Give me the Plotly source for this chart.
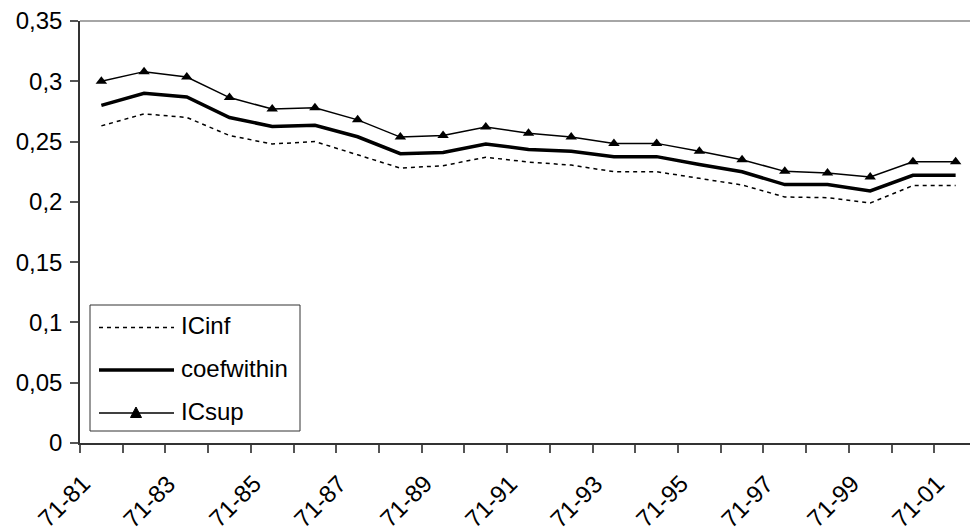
import plotly.graph_objects as go

categories = ["71-81", "71-82", "71-83", "71-84", "71-85", "71-86", "71-87", "71-88",
              "71-89", "71-90", "71-91", "71-92", "71-93", "71-94", "71-95", "71-96",
              "71-97", "71-98", "71-99", "71-00", "71-01"]
ICinf = [0.263, 0.273, 0.270, 0.255, 0.248, 0.250, 0.239, 0.228, 0.230, 0.237, 0.233,
         0.2305, 0.225, 0.225, 0.2195, 0.214, 0.204, 0.2035, 0.199, 0.2135, 0.2135]
coefwithin = [0.280, 0.290, 0.287, 0.270, 0.2625, 0.2635, 0.254, 0.240, 0.241, 0.248, 0.2435,
              0.242, 0.2375, 0.2375, 0.231, 0.225, 0.2143, 0.2143, 0.209, 0.222, 0.222]
ICsup = [0.300, 0.308, 0.3035, 0.2865, 0.277, 0.278, 0.268, 0.2537, 0.255, 0.262, 0.257,
         0.2537, 0.2485, 0.2485, 0.242, 0.235, 0.2253, 0.224, 0.2206, 0.2333, 0.2333]
series_names = ["ICinf", "coefwithin", "ICsup"]
y_ticks = [0, 0.05, 0.1, 0.15, 0.2, 0.25, 0.3, 0.35]
y_ticktext = ["0", "0,05", "0,1", "0,15", "0,2", "0,25", "0,3", "0,35"]

xpos = list(range(len(categories)))
FONT = "Liberation Sans, Arial, sans-serif"
FS = 24

# page body has an 8px margin; plot area target (absolute px): x 80..977, y 21..443
OFF = 8
PL, PR, PT, PB = 80, 977, 21, 443
W, H = 978 - OFF, 532 - OFF


def px(x):
    return (x - PL) / (PR - PL)


def py(y):
    return (PB - y) / (PB - PT)


styles = [
    dict(line=dict(color="black", width=1.5, dash="4px,4px"), mode="lines"),
    dict(line=dict(color="black", width=3.5), mode="lines"),
    dict(line=dict(color="black", width=1.5), mode="lines+markers",
         marker=dict(symbol="triangle-up", size=10, color="black")),
]

fig = go.Figure()
for name, vals, st in zip(series_names, [ICinf, coefwithin, ICsup], styles):
    fig.add_trace(go.Scatter(x=xpos, y=vals, name=name, showlegend=False, **st))

# custom legend (Excel-style, long line samples)
shapes = [
    dict(type="line", xref="paper", yref="paper", x0=0, x1=1, y0=1, y1=1,
         line=dict(color="#888888", width=1.5)),
    dict(type="rect", xref="paper", yref="paper", x0=px(90), x1=px(300), y0=py(431), y1=py(305),
         line=dict(color="#333333", width=1), fillcolor="white", layer="above"),
]
annotations = []
item_y = [327.5, 370, 413]
for name, st, yy in zip(series_names, styles, item_y):
    shapes.append(dict(type="line", xref="paper", yref="paper", x0=px(99), x1=px(174),
                       y0=py(yy), y1=py(yy), line=st["line"], layer="above"))
    annotations.append(dict(xref="paper", yref="paper", x=px(179), y=py(yy - 2),
                            text=name, showarrow=False, xanchor="left", yanchor="middle",
                            font=dict(size=FS, family=FONT, color="black")))
# triangle symbol on ICsup legend line
tx, ty = 136, 413
tri = "M {},{} L {},{} L {},{} Z".format(px(tx - 5.5), py(ty + 4.5), px(tx + 5.5), py(ty + 4.5),
                                         px(tx), py(ty - 6))
shapes.append(dict(type="path", xref="paper", yref="paper", path=tri,
                   fillcolor="black", line=dict(color="black", width=1), layer="above"))

# rotated category labels (every other category), Excel-style placement
for i in xpos[::2]:
    annotations.append(dict(xref="x", yref="paper", x=i, y=0, text=categories[i],
                            showarrow=False, textangle=-45, xanchor="center", yanchor="middle",
                            xshift=-38, yshift=-58,
                            font=dict(size=FS, family=FONT, color="black")))

fig.update_layout(
    width=W, height=H,
    margin=dict(l=PL - OFF, r=W - (PR - OFF), t=PT - OFF, b=H - (PB - OFF)),
    paper_bgcolor="white", plot_bgcolor="white",
    font=dict(family=FONT, size=FS, color="black"),
    showlegend=False,
    xaxis=dict(range=[-0.5, len(categories) - 0.5], showgrid=False, zeroline=False,
               automargin=False, showticklabels=False,
               showline=True, linecolor="#333333", linewidth=1.5,
               tickmode="array", tickvals=xpos[::2], ticks="",
               minor=dict(tick0=-0.5, dtick=1, ticks="outside", ticklen=8,
                          tickcolor="#555555", tickwidth=1.5, showgrid=False)),
    yaxis=dict(range=[0, 0.35], showgrid=False, zeroline=False, automargin=False,
               ticklabeloverflow="allow",
               showline=True, linecolor="#333333", linewidth=1.5,
               tickmode="array", tickvals=y_ticks, ticktext=y_ticktext,
               ticks="outside", ticklen=8, tickcolor="#555555", tickwidth=1.5,
               tickfont=dict(size=FS), ticklabelstandoff=3),
    shapes=shapes,
    annotations=annotations,
)

fig.write_html("out.html")
